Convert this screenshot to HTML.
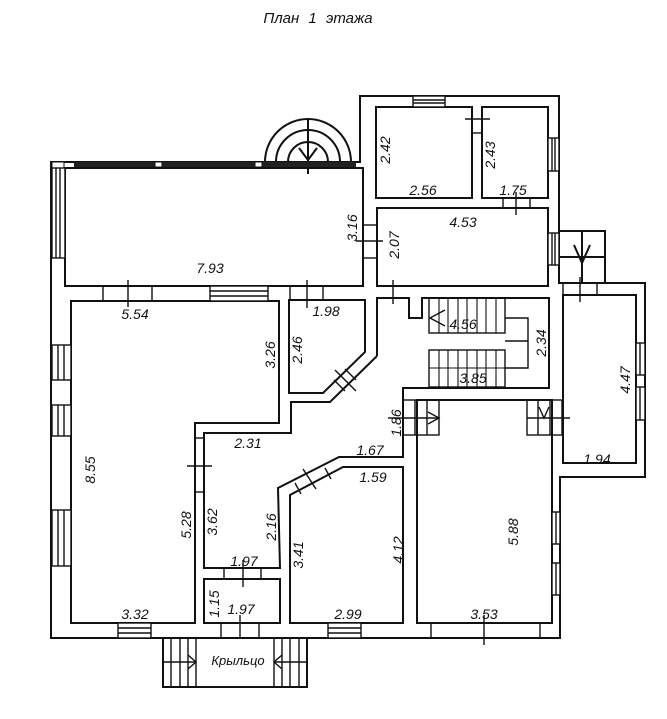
<!DOCTYPE html>
<html><head><meta charset="utf-8"><style>
html,body{margin:0;padding:0;background:#fff;}
svg{display:block}
text{font-family:"Liberation Sans",sans-serif;font-style:italic;font-size:14px;fill:#111}
</style></head><body>
<svg width="667" height="719" viewBox="0 0 667 719" xmlns="http://www.w3.org/2000/svg">
<g fill="none" stroke="#111" stroke-width="2">
<polygon points="51,162 360,162 360,96 559,96 559,283 645,283 645,477 560,477 560,638 51,638" fill="#fff"/>
<polygon points="65,168 363,168 363,286 65,286"/>
<polygon points="71,301 279,301 279,423 195,423 195,623 71,623"/>
<polygon points="289,300 365,300 365,352 323,393 289,393"/>
<polygon points="376,107 472,107 472,198 376,198"/>
<polygon points="482,107 548,107 548,198 482,198"/>
<polygon points="377,208 548,208 548,286 377,286"/>
<polyline points="377,356 377,298 409,298 409,318 422,318 422,298 549,298 549,388 403,388 403,457 339,457 278,488 280,568 204,568 204,433 291,433 291,402 330,402 377,356"/>
<polygon points="204,579 280,579 280,623 204,623"/>
<polygon points="290,495 343,467 403,467 403,623 290,623"/>
<polygon points="417,400 552,400 552,623 417,623"/>
<polygon points="563,295 636,295 636,463 563,463"/>
<rect x="559" y="231" width="46" height="52" fill="#fff"/>
<line x1="559" y1="257" x2="605" y2="257"/><line x1="582" y1="231" x2="582" y2="283"/>
<polyline points="574,245 582,263 590,245"/>
<path d="M265,162 A43,43 0 0 1 351,162"/>
<path d="M276,162 A32,32 0 0 1 340,162"/>
<path d="M288,162 A20,20 0 0 1 328,162"/>
<line x1="308" y1="119" x2="308" y2="174"/>
<polyline points="299,148 308,160 317,148"/>
</g>
<rect x="74" y="162" width="282" height="5" fill="#222"/>
<rect x="155" y="162" width="7" height="5" fill="#fff" stroke="#111"/>
<rect x="255" y="162" width="7" height="5" fill="#fff" stroke="#111"/>
<rect x="52" y="162" width="12" height="6" fill="#fff" stroke="#111"/>
<g fill="#fff" stroke="#111" stroke-width="1.4">
<rect x="52" y="168" width="13" height="90"/><line x1="56" y1="168" x2="56" y2="258"/><line x1="60" y1="168" x2="60" y2="258"/>
<rect x="52" y="345" width="19" height="35"/><line x1="58" y1="345" x2="58" y2="380"/><line x1="64" y1="345" x2="64" y2="380"/>
<rect x="52" y="405" width="19" height="31"/><line x1="58" y1="405" x2="58" y2="436"/><line x1="64" y1="405" x2="64" y2="436"/>
<rect x="52" y="510" width="19" height="56"/><line x1="58" y1="510" x2="58" y2="566"/><line x1="64" y1="510" x2="64" y2="566"/>
<rect x="552" y="512" width="8" height="32"/><line x1="556" y1="512" x2="556" y2="544"/>
<rect x="552" y="563" width="8" height="32"/><line x1="556" y1="563" x2="556" y2="595"/>
<rect x="636" y="343" width="9" height="32"/><line x1="640" y1="343" x2="640" y2="375"/>
<rect x="636" y="387" width="9" height="33"/><line x1="640" y1="387" x2="640" y2="420"/>
<rect x="548" y="138" width="11" height="33"/><line x1="552" y1="138" x2="552" y2="171"/><line x1="555" y1="138" x2="555" y2="171"/>
<rect x="548" y="233" width="11" height="32"/><line x1="552" y1="233" x2="552" y2="265"/><line x1="555" y1="233" x2="555" y2="265"/>
<rect x="413" y="96" width="32" height="11"/><line x1="413" y1="100" x2="445" y2="100"/><line x1="413" y1="103" x2="445" y2="103"/>
<rect x="210" y="286" width="58" height="15"/><line x1="210" y1="291" x2="268" y2="291"/><line x1="210" y1="296" x2="268" y2="296"/>
<rect x="118" y="623" width="33" height="15"/><line x1="118" y1="628" x2="151" y2="628"/><line x1="118" y1="633" x2="151" y2="633"/>
<rect x="328" y="623" width="33" height="15"/><line x1="328" y1="628" x2="361" y2="628"/><line x1="328" y1="633" x2="361" y2="633"/>
</g>
<g stroke="#111" stroke-width="1.4" fill="none">
<line x1="103" y1="286" x2="103" y2="301"/><line x1="152" y1="286" x2="152" y2="301"/><line x1="128" y1="280" x2="128" y2="307"/>
<line x1="290" y1="286" x2="290" y2="300"/><line x1="323" y1="286" x2="323" y2="300"/><line x1="307" y1="280" x2="307" y2="308"/>
<line x1="472" y1="133" x2="482" y2="133"/><line x1="465" y1="119" x2="490" y2="119"/>
<line x1="503" y1="198" x2="503" y2="208"/><line x1="530" y1="198" x2="530" y2="208"/><line x1="516" y1="192" x2="516" y2="215"/>
<line x1="363" y1="225" x2="377" y2="225"/><line x1="363" y1="258" x2="377" y2="258"/><line x1="356" y1="241" x2="383" y2="241"/>
<line x1="393" y1="280" x2="393" y2="304"/>
<line x1="563" y1="283" x2="563" y2="295"/><line x1="597" y1="283" x2="597" y2="295"/><line x1="580" y1="277" x2="580" y2="302"/>
<line x1="195" y1="438" x2="204" y2="438"/><line x1="195" y1="492" x2="204" y2="492"/><line x1="187" y1="466" x2="212" y2="466"/>
<line x1="224" y1="568" x2="224" y2="579"/><line x1="261" y1="568" x2="261" y2="579"/><line x1="243" y1="560" x2="243" y2="587"/>
<line x1="221" y1="623" x2="221" y2="638"/><line x1="259" y1="623" x2="259" y2="638"/><line x1="240" y1="615" x2="240" y2="645"/>
<line x1="431" y1="623" x2="431" y2="638"/><line x1="540" y1="623" x2="540" y2="638"/><line x1="484" y1="615" x2="484" y2="645"/>
<line x1="334" y1="380" x2="345" y2="391"/><line x1="345" y1="369" x2="356" y2="380"/><line x1="335" y1="370" x2="356" y2="391"/>
<line x1="295" y1="483" x2="301" y2="494"/><line x1="325" y1="468" x2="331" y2="479"/><line x1="303" y1="469" x2="316" y2="489"/>
<rect x="429" y="298" width="76" height="35"/>
<rect x="429" y="350" width="76" height="37"/>
<polyline points="505,318 528,318 528,368 505,368"/>
<line x1="505" y1="341" x2="528" y2="341"/>
<polyline points="445,310 430,318 445,326"/>
</g>
<g stroke="#111" stroke-width="1.1">
<line x1="439" y1="298" x2="439" y2="333"/><line x1="448" y1="298" x2="448" y2="333"/><line x1="458" y1="298" x2="458" y2="333"/><line x1="467" y1="298" x2="467" y2="333"/><line x1="477" y1="298" x2="477" y2="333"/><line x1="486" y1="298" x2="486" y2="333"/><line x1="496" y1="298" x2="496" y2="333"/>
<line x1="439" y1="350" x2="439" y2="387"/><line x1="448" y1="350" x2="448" y2="387"/><line x1="458" y1="350" x2="458" y2="387"/><line x1="467" y1="350" x2="467" y2="387"/><line x1="477" y1="350" x2="477" y2="387"/><line x1="486" y1="350" x2="486" y2="387"/><line x1="496" y1="350" x2="496" y2="387"/>
<line x1="429" y1="368" x2="505" y2="368"/>
</g>
<g stroke="#111" stroke-width="1.4" fill="none">
<rect x="403" y="400" width="36" height="35"/><line x1="403" y1="418" x2="439" y2="418"/><line x1="415" y1="400" x2="415" y2="435"/><line x1="427" y1="400" x2="427" y2="435"/>
<polyline points="428,412 439,418 428,424"/>
<line x1="388" y1="418" x2="403" y2="418"/>
<rect x="527" y="400" width="35" height="35"/><line x1="527" y1="418" x2="570" y2="418"/><line x1="538" y1="400" x2="538" y2="435"/><line x1="550" y1="400" x2="550" y2="435"/>
<polyline points="539,407 544,418 549,407"/>
<rect x="163" y="638" width="144" height="49" fill="#fff" stroke-width="2"/>
<line x1="196" y1="638" x2="196" y2="687"/><line x1="274" y1="638" x2="274" y2="687"/>
<line x1="171" y1="638" x2="171" y2="687"/><line x1="180" y1="638" x2="180" y2="687"/><line x1="188" y1="638" x2="188" y2="687"/>
<line x1="282" y1="638" x2="282" y2="687"/><line x1="290" y1="638" x2="290" y2="687"/><line x1="299" y1="638" x2="299" y2="687"/>
<line x1="163" y1="662" x2="196" y2="662"/><line x1="274" y1="662" x2="307" y2="662"/>
<polyline points="188,655 196,662 188,669"/><polyline points="282,655 274,662 282,669"/>
</g>
<text x="318" y="23" text-anchor="middle" style="font-size:15px;word-spacing:5px">План 1 этажа</text>
<text x="238" y="665" text-anchor="middle" style="font-size:13px">Крыльцо</text>
<text x="210" y="273" text-anchor="middle">7.93</text>
<text x="135" y="319" text-anchor="middle">5.54</text>
<text x="326" y="316" text-anchor="middle">1.98</text>
<text x="248" y="448" text-anchor="middle">2.31</text>
<text x="370" y="455" text-anchor="middle">1.67</text>
<text x="373" y="482" text-anchor="middle">1.59</text>
<text x="244" y="566" text-anchor="middle">1.97</text>
<text x="241" y="614" text-anchor="middle">1.97</text>
<text x="135" y="619" text-anchor="middle">3.32</text>
<text x="348" y="619" text-anchor="middle">2.99</text>
<text x="484" y="619" text-anchor="middle">3.53</text>
<text x="423" y="195" text-anchor="middle">2.56</text>
<text x="513" y="195" text-anchor="middle">1.75</text>
<text x="463" y="227" text-anchor="middle">4.53</text>
<text x="463" y="329" text-anchor="middle">4.56</text>
<text x="473" y="383" text-anchor="middle">3.85</text>
<text x="597" y="464" text-anchor="middle">1.94</text>
<g>
<text transform="translate(357,228) rotate(-90)" text-anchor="middle">3.16</text>
<text transform="translate(275,355) rotate(-90)" text-anchor="middle">3.26</text>
<text transform="translate(302,350) rotate(-90)" text-anchor="middle">2.46</text>
<text transform="translate(95,470) rotate(-90)" text-anchor="middle">8.55</text>
<text transform="translate(217,522) rotate(-90)" text-anchor="middle">3.62</text>
<text transform="translate(191,525) rotate(-90)" text-anchor="middle">5.28</text>
<text transform="translate(276,527) rotate(-90)" text-anchor="middle">2.16</text>
<text transform="translate(303,555) rotate(-90)" text-anchor="middle">3.41</text>
<text transform="translate(403,550) rotate(-90)" text-anchor="middle">4.12</text>
<text transform="translate(401,423) rotate(-90)" text-anchor="middle">1.86</text>
<text transform="translate(518,532) rotate(-90)" text-anchor="middle">5.88</text>
<text transform="translate(219,604) rotate(-90)" text-anchor="middle">1.15</text>
<text transform="translate(390,150) rotate(-90)" text-anchor="middle">2.42</text>
<text transform="translate(495,155) rotate(-90)" text-anchor="middle">2.43</text>
<text transform="translate(399,245) rotate(-90)" text-anchor="middle">2.07</text>
<text transform="translate(546,343) rotate(-90)" text-anchor="middle">2.34</text>
<text transform="translate(630,380) rotate(-90)" text-anchor="middle">4.47</text>
</g>
</svg>
</body></html>
